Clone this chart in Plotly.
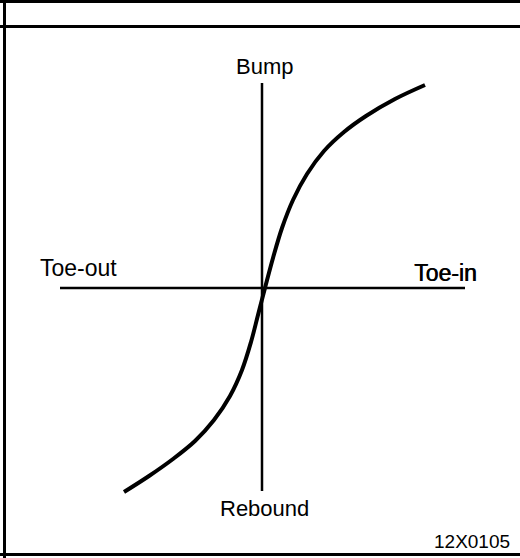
import plotly.graph_objects as go

# Toe change vs. wheel travel (offsets from the axis crossing)
toe = [-138, -113, -89, -67, -48, -32, -20, -11, -4, 3, 11, 20, 31, 45, 62, 82, 104, 133, 163]
travel = [-204, -188, -171, -153, -132, -108, -82, -54, -27, 0, 30, 60, 88, 114, 137, 156, 172, 189, 203]

axis_labels = {"up": "Bump", "down": "Rebound", "left": "Toe-out", "right": "Toe-in"}
figure_code = "12X0105"

W, H = 520, 558
X0, Y0 = 262, 288  # pixel position of the origin

fig = go.Figure()

# axes of the diagram
fig.add_trace(go.Scatter(x=[60 - X0, 465 - X0], y=[0, 0], mode="lines",
                         line=dict(color="black", width=2.5), hoverinfo="skip"))
fig.add_trace(go.Scatter(x=[0, 0], y=[Y0 - 83, Y0 - 491], mode="lines",
                         line=dict(color="black", width=2.5), hoverinfo="skip"))

# toe curve
fig.add_trace(go.Scatter(x=toe, y=travel, mode="lines",
                         line=dict(color="black", width=4, shape="spline", smoothing=1.0),
                         hoverinfo="skip"))

font = dict(family="Liberation Sans, Arial, sans-serif", size=22, color="black")
fig.add_annotation(x=264 - X0, y=Y0 - 66, text=axis_labels["up"], showarrow=False, font=font)
fig.add_annotation(x=264 - X0, y=Y0 - 508, text=axis_labels["down"], showarrow=False, font=font)
fig.add_annotation(x=78 - X0, y=Y0 - 268, text=axis_labels["left"], showarrow=False,
                   font=dict(font, size=23))
fig.add_annotation(x=445 - X0, y=Y0 - 273, text=axis_labels["right"], showarrow=False,
                   font=dict(font, size=23, shadow="0.6px 0px 0px black"))
fig.add_annotation(x=472 - X0, y=Y0 - 541, text=figure_code, showarrow=False,
                   font=dict(font, size=19))

# frame: top rule, header separator, left and bottom rules
frame = dict(type="line", xref="paper", yref="paper", line=dict(color="black", width=3))
def px(x, y):
    return x / W, 1 - y / H
for (xa, ya), (xb, yb) in [((0, 1.5), (520, 1.5)), ((0, 26.5), (520, 26.5)),
                           ((4.5, 0), (4.5, 558)), ((0, 554.5), (520, 554.5))]:
    (ax, ay), (bx, by) = px(xa, ya), px(xb, yb)
    fig.add_shape(frame, x0=ax, y0=ay, x1=bx, y1=by)

fig.update_layout(
    width=W, height=H, margin=dict(l=0, r=0, t=0, b=0),
    paper_bgcolor="white", plot_bgcolor="white", showlegend=False,
    xaxis=dict(range=[-X0, W - X0], visible=False, fixedrange=True),
    yaxis=dict(range=[Y0 - H, Y0], visible=False, fixedrange=True),
)
fig.write_html("out.html")
